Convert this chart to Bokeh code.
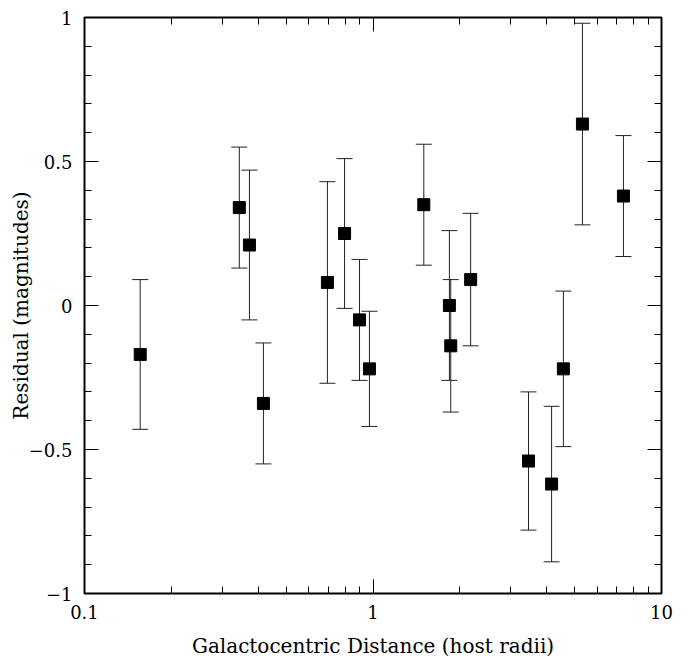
from bokeh.plotting import figure
from bokeh.models import (ColumnDataSource, Whisker, TeeHead, LogAxis, LinearAxis,
                          Range1d, FixedTicker)
from bokeh.embed import file_html
from bokeh.resources import INLINE

# Data
distance = [0.156, 0.344, 0.373, 0.417, 0.695, 0.797, 0.898, 0.972, 1.50,
            1.84, 1.86, 2.18, 3.46, 4.16, 4.57, 5.32, 7.38]
residual = [-0.17, 0.34, 0.21, -0.34, 0.08, 0.25, -0.05, -0.22, 0.35,
            0.00, -0.14, 0.09, -0.54, -0.62, -0.22, 0.63, 0.38]
err_upper = [0.09, 0.55, 0.47, -0.13, 0.43, 0.51, 0.16, -0.02, 0.56,
             0.26, 0.09, 0.32, -0.30, -0.35, 0.05, 0.98, 0.59]
err_lower = [-0.43, 0.13, -0.05, -0.55, -0.27, -0.01, -0.26, -0.42, 0.14,
             -0.26, -0.37, -0.14, -0.78, -0.89, -0.49, 0.28, 0.17]

y_ticks = [-1, -0.5, 0, 0.5, 1]
y_tick_labels = {-1: "\u22121", -0.5: "\u22120.5", 0: "0", 0.5: "0.5", 1: "1"}
x_ticks = [0.1, 1, 10]
x_tick_labels = {0.1: "0.1", 1: "1", 10: "10"}
x_title = "Galactocentric Distance (host radii)"
y_title = "Residual (magnitudes)"

src = ColumnDataSource(dict(x=distance, y=residual, upper=err_upper, lower=err_lower))

FONT = "DejaVu Serif"

p = figure(width=691, height=660, x_axis_type="log",
           x_range=Range1d(0.1, 10), y_range=Range1d(-1, 1),
           output_backend="svg", toolbar_location=None,
           min_border_left=84, min_border_right=30, min_border_top=17, min_border_bottom=65,
           x_axis_label=x_title, y_axis_label=y_title)
p.background_fill_color = "white"
p.border_fill_color = "white"
p.grid.visible = False
p.outline_line_color = "black"
p.outline_line_width = 2

minor_x = [m * 10 ** e for e in (-1, 0) for m in range(2, 10)]
minor_y = [round(-1 + 0.1 * i, 2) for i in range(21)]

def style_axis(ax, labels):
    ax.axis_line_color = None
    ax.major_tick_in = 14
    ax.major_tick_out = 0
    ax.minor_tick_in = 7
    ax.minor_tick_out = 0
    ax.major_tick_line_color = "black"
    ax.minor_tick_line_color = "black"
    ax.major_tick_line_width = 1
    ax.minor_tick_line_width = 1
    if labels:
        ax.major_label_text_font = FONT
        ax.major_label_text_font_size = "18px"
        ax.major_label_text_color = "black"
        ax.axis_label_text_font = FONT
        ax.axis_label_text_font_size = "20px"
        ax.axis_label_text_font_style = "normal"
        ax.axis_label_text_color = "black"
    else:
        ax.major_label_text_font_size = "1px"
        ax.major_label_text_color = None
        ax.major_label_standoff = 0

xa = p.xaxis[0]
xa.ticker = FixedTicker(ticks=x_ticks, minor_ticks=minor_x)
xa.major_label_overrides = x_tick_labels
xa.major_label_standoff = 11
xa.axis_label_standoff = 12
style_axis(xa, True)

ya = p.yaxis[0]
ya.ticker = FixedTicker(ticks=y_ticks, minor_ticks=minor_y)
ya.major_label_overrides = y_tick_labels
ya.major_label_standoff = 12
ya.axis_label_standoff = -7
style_axis(ya, True)

top = LogAxis(ticker=FixedTicker(ticks=x_ticks, minor_ticks=minor_x))
style_axis(top, False)
p.add_layout(top, "above")
right = LinearAxis(ticker=FixedTicker(ticks=y_ticks, minor_ticks=minor_y))
style_axis(right, False)
p.add_layout(right, "right")

w = Whisker(source=src, base="x", upper="upper", lower="lower", dimension="height",
            line_color="#222222", line_width=1,
            upper_head=TeeHead(size=16, line_color="#222222", line_width=1),
            lower_head=TeeHead(size=16, line_color="#222222", line_width=1))
p.add_layout(w)

p.scatter("x", "y", source=src, marker="square", size=12,
          fill_color="black", line_color="black")

open("out.html", "w").write(file_html(p, INLINE))
